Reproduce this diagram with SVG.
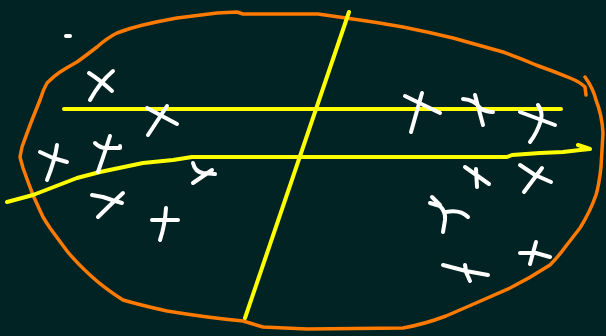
<svg xmlns="http://www.w3.org/2000/svg" width="606" height="336" viewBox="0 0 606 336">
<style>
.o{fill:none;stroke:#ff7a00;stroke-width:3.5;stroke-linejoin:round;stroke-linecap:round}
.y{fill:none;stroke:#ffff00;stroke-width:4;stroke-linejoin:round;stroke-linecap:round}
.w{fill:none;stroke:#ffffff;stroke-width:4;stroke-linejoin:round;stroke-linecap:round}
</style>
<rect width="606" height="336" fill="#022323"/>
<g id="boundary">
<path class="o" d="M585,77 Q593,88 596,100 Q602,115 603,133 L601,167 Q599,185 596,195 Q590,212 580,228 L566,246 Q558,257 550,265 Q530,278 510,288 L476,303 L446,316 Q425,324 403,328 L307,329 L263,327 L243,321 Q210,318 167,311 Q140,305 123,300 Q104,288 90,275 Q76,262 67,251 L50,228 Q46,222 43,217 Q37,204 33,195 Q28,182 23,168 L20,157 L22,147 Q27,133 32,120 L40,100 Q43,90 47,83 Q54,76 60,72 Q68,67 77,62 Q88,54 97,47 Q107,38 117,33 Q130,28 143,25 Q160,21 177,18 L217,13 L237,12 L243,14 L318,14 Q332,16 346,18 Q375,22 403,27 Q428,32 453,38 Q478,45 503,52 Q520,58 536,65 Q553,71 570,78 Q580,82 585,87 L586,95"/>
</g>
<g id="lines">
<path class="y" d="M64,109 L561,109"/>
<path class="y" d="M7,202 L33,195 L77,178 L100,172 L143,163 L173,160 L192,157 L507,157 L512,155 L540,153 L563,152 L580,150 L590,149 L578,145"/>
<path class="y" d="M349,12 L245,318"/>
</g>
<g id="marks">
<path class="w" d="M66,36 L70,36"/>
<path class="w" d="M113,71 Q100,82 90,100 M89,73 Q100,80 112,91"/>
<path class="w" d="M147,108 L177,124 M167,106 L148,135"/>
<path class="w" d="M40,152 L53,158 L67,162 M57,145 Q55,160 47,180"/>
<path class="w" d="M110,136 Q104,155 98,172 M95,143 Q100,148 106,148 L120,148 L120,146"/>
<path class="w" d="M193,163 Q195,172 203,173 L215,174 M212,170 L193,183"/>
<path class="w" d="M92,195 L103,197 L112,200 L122,203 M123,193 Q110,205 98,217"/>
<path class="w" d="M152,220 L178,220 M166,208 Q165,225 160,240"/>
<path class="w" d="M405,96 L440,113 M422,93 L411,132"/>
<path class="w" d="M463,99 Q475,100 480,108 Q486,112 493,112 M475,95 L483,125"/>
<path class="w" d="M520,112 L555,125 M538,105 Q543,112 541,120 Q537,133 530,142"/>
<path class="w" d="M465,167 L489,184 M476,169 L477,187"/>
<path class="w" d="M520,165 L535,175 L551,182 M542,168 L524,192"/>
<path class="w" d="M432,197 L440,205 M430,203 L440,206 Q446,212 445,220 L443,232 M446,212 Q460,209 468,217"/>
<path class="w" d="M520,253 L536,253 L550,257 M536,242 L530,264"/>
<path class="w" d="M443,265 L466,271 L488,275 M465,265 Q466,270 466,272 L470,281"/>
</g>
</svg>
